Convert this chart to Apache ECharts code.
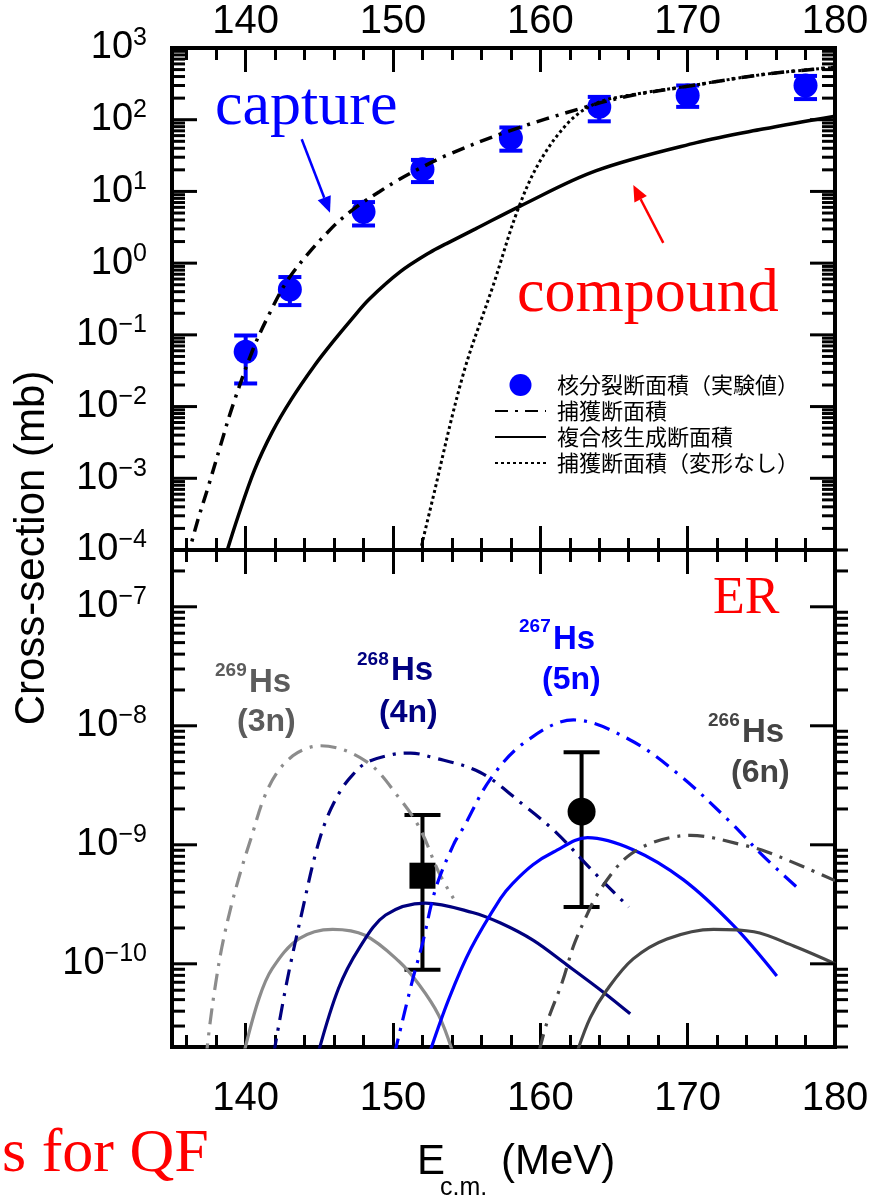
<!DOCTYPE html>
<html>
<head>
<meta charset="utf-8">
<script src="https://cdn.jsdelivr.net/npm/echarts@6/dist/echarts.min.js"></script>
<style>
  html, body { margin: 0; padding: 0; background: #fff; }
  #chart { width: 879px; height: 1196px; }
</style>
</head>
<body>
<div id="chart"></div>
<script>
// x range shared by both panels (MeV)
const xMin = 135, xMax = 180;
// y ranges (mb)
const topMin = 1e-4, topMax = 1e3;
const botMin = 2e-11, botMax = 3e-7;

// 上段: 核分裂断面積（実験値）
const fissE = [140, 143, 148, 152, 158, 164, 170, 178];
const fissVal = [0.058, 0.43, 5.2, 20.4, 55.6, 151, 217, 300];
const fissLo = [0.021, 0.26, 3.35, 13.5, 37, 95, 151, 194];
const fissHi = [0.098, 0.64, 7.1, 27.5, 78, 208, 300, 408];

// 捕獲断面積
const capE = [136.0, 136.7, 137.5, 138.3, 139.1, 140.5, 141.6, 142.8, 144.27, 145.85, 146.6, 147.76, 149.1, 150.27, 151.8, 153.6, 157.7, 163.1, 166, 170.1, 175.1, 180];
const capVal = [7.1e-5, 2.4e-4, 8.1e-4, 2.9e-3, 1.0e-2, 0.063, 0.195, 0.56, 1.38, 3.1, 4.3, 6.6, 10.0, 14.1, 20.9, 31.6, 67.6, 151, 214, 295, 427, 537];

// 複合核生成断面積
const cnE = [138.6, 139.5, 140.6, 141.8, 143.1, 144.7, 145.9, 147.2, 148.4, 150.5, 152.5, 153.6, 155.6, 158.6, 163.8, 170.6, 175.1, 180];
const cnVal = [7.9e-5, 3.0e-4, 1.3e-3, 4.4e-3, 0.0126, 0.038, 0.079, 0.166, 0.316, 0.76, 1.41, 1.86, 3.0, 6.2, 19.5, 47.9, 74, 112];

// 捕獲断面積（変形なし）
const capSphE = [151.75, 152.5, 154.75, 156.8, 158.5, 160, 162, 163.8, 166, 170.1, 175.1, 180];
const capSphVal = [7.9e-5, 3.5e-4, 0.0275, 0.49, 5.75, 26.9, 95.5, 170, 219, 295, 427, 537];

// 下段: ER (dash-dot = upper, solid = lower)
const hs269DashE = [137.3, 137.6, 137.96, 138.4, 139.0, 139.7, 140.4, 141.2, 142.1, 143.2, 144.2, 145.1, 148.2, 150.5, 151.85, 153.1, 154.1];
const hs269DashVal = [1.58e-11, 3.3e-11, 6.8e-11, 1.41e-10, 3.0e-10, 6.2e-10, 1.17e-9, 2.4e-9, 4.0e-9, 5.6e-9, 6.5e-9, 6.8e-9, 5.0e-9, 2.4e-9, 1.35e-9, 5.9e-10, 3.55e-10];
const hs269SolidE = [139.9, 140.9, 141.8, 143.6, 145.9, 148.1, 150.4, 151.8, 153.1, 154.0];
const hs269SolidVal = [1.82e-11, 5.1e-11, 9.1e-11, 1.62e-10, 1.95e-10, 1.74e-10, 1.05e-10, 6.6e-11, 3.7e-11, 1.9e-11];

const hs268DashE = [141.9, 142.8, 143.9, 144.75, 145.5, 146.4, 147.2, 148.2, 150.0, 151.2, 152.5, 155.9, 158.9, 161.1, 163.4, 166.0];
const hs268DashVal = [1.74e-11, 7.1e-11, 3.0e-10, 8.5e-10, 1.66e-9, 2.8e-9, 3.8e-9, 4.9e-9, 5.75e-9, 5.9e-9, 5.5e-9, 4.07e-9, 2.14e-9, 1.26e-9, 6.3e-10, 3.0e-10];
const hs268SolidE = [144.9, 146.3, 147.7, 149.5, 152.2, 155.4, 157.3, 159.5, 161.8, 164.3, 166.1];
const hs268SolidVal = [1.74e-11, 6.2e-11, 1.35e-10, 2.57e-10, 3.24e-10, 2.7e-10, 2.2e-10, 1.58e-10, 9.8e-11, 5.75e-11, 3.8e-11];

const hs267DashE = [150.1, 151.3, 152.0, 152.9, 154.1, 154.8, 156.6, 158.9, 162.25, 166.1, 169.5, 172.9, 175.1, 177.6];
const hs267DashVal = [1.74e-11, 7.1e-11, 1.48e-10, 4.3e-10, 1.0e-9, 1.41e-9, 3.55e-9, 7.2e-9, 1.12e-8, 7.6e-9, 3.8e-9, 1.55e-9, 8.1e-10, 4.2e-10];
const hs267SolidE = [152.45, 153.8, 155.3, 157.3, 158.1, 159.5, 160.9, 163.2, 166.3, 169.7, 173.1, 176.05];
const hs267SolidVal = [1.74e-11, 5.1e-11, 1.35e-10, 3.55e-10, 4.7e-10, 6.8e-10, 8.7e-10, 1.15e-9, 9.1e-10, 5.1e-10, 2.1e-10, 7.9e-11];

const hs266DashE = [159.95, 160.45, 161.5, 162.25, 163.05, 163.8, 165.1, 166.1, 167.4, 168.8, 170.2, 174.0, 175.4, 177.9, 180];
const hs266DashVal = [1.9e-11, 3.2e-11, 7.1e-11, 1.41e-10, 2.4e-10, 3.7e-10, 6.3e-10, 8.3e-10, 1.02e-9, 1.15e-9, 1.2e-9, 9.8e-10, 8.7e-10, 6.5e-10, 5.0e-10];
const hs266SolidE = [162.5, 163.4, 164.5, 166.3, 168.6, 171.75, 174.5, 177.2, 180];
const hs266SolidVal = [1.82e-11, 3.55e-11, 6.0e-11, 1.1e-10, 1.62e-10, 1.95e-10, 1.86e-10, 1.41e-10, 1.0e-10];

// ER 実験値
const erE = [152.0, 162.8];
const erVal = [5.5e-10, 1.9e-9];
const erLo = [8.9e-11, 3.0e-10];
const erHi = [1.78e-9, 6.0e-9];
const erShape = ['rect', 'circle'];

// log tick decades
const topDecades = [-4, -3, -2, -1, 0, 1, 2, 3];
const botDecades = [-11, -10, -9, -8, -7];
const tickMult = [1, 2, 3, 4, 5, 6, 7, 8, 9];

const SANS = 'Liberation Sans';
const SERIF = 'Liberation Serif';
const CJK = 'Noto Sans CJK JP';

const chart = echarts.init(document.getElementById('chart'));

function logTicks(decades, lo, hi) {
  const out = [];
  decades.forEach(k => {
    tickMult.forEach(m => {
      const v = Number((m * Math.pow(10, k)).toPrecision(6));
      if (v >= lo * (1 - 1e-9) && v <= hi * (1 + 1e-9)) out.push([xMin, v, m === 1 ? 1 : 0]);
    });
  });
  return out;
}

// 対数目盛（左右）をカスタムで描く
function tickSeries(xi, yi, data, rightMinorOut) {
  return {
    type: 'custom', xAxisIndex: xi, yAxisIndex: yi, silent: true, clip: false, z: 6,
    encode: { x: 0, y: 1 },
    data: data,
    renderItem: function (params, api) {
      const v = api.value(1);
      const major = api.value(2) === 1;
      const l = api.coord([xMin, v]);
      const r = api.coord([xMax, v]);
      const len = major ? 25 : 13;
      const rx2 = (rightMinorOut && !major) ? r[0] + len : r[0] - len;
      return {
        type: 'group',
        children: [
          { type: 'line', shape: { x1: l[0], y1: l[1], x2: l[0] + len, y2: l[1] }, style: { stroke: '#000', lineWidth: 3 } },
          { type: 'line', shape: { x1: r[0], y1: r[1], x2: rx2, y2: r[1] }, style: { stroke: '#000', lineWidth: 3 } }
        ]
      };
    }
  };
}

function errSeries(xi, yi, E, lo, hi, color, capW) {
  return {
    type: 'custom', xAxisIndex: xi, yAxisIndex: yi, silent: true, z: 3,
    encode: { x: 0, y: 1 },
    data: E.map((e, i) => [e, lo[i], hi[i]]),
    renderItem: function (params, api) {
      const a = api.coord([api.value(0), api.value(1)]);
      const b = api.coord([api.value(0), api.value(2)]);
      const st = { stroke: color, lineWidth: 4 };
      return {
        type: 'group',
        children: [
          { type: 'line', shape: { x1: a[0], y1: a[1], x2: b[0], y2: b[1] }, style: st },
          { type: 'line', shape: { x1: a[0] - capW / 2, y1: a[1], x2: a[0] + capW / 2, y2: a[1] }, style: st },
          { type: 'line', shape: { x1: b[0] - capW / 2, y1: b[1], x2: b[0] + capW / 2, y2: b[1] }, style: st }
        ]
      };
    }
  };
}

function curve(name, xi, yi, E, V, color, type, width) {
  return {
    type: 'line', name: name, xAxisIndex: xi, yAxisIndex: yi,
    data: E.map((e, i) => [e, V[i]]),
    smooth: 0.35, symbol: 'none', showSymbol: false, z: 5,
    lineStyle: { color: color, width: width, type: type },
    itemStyle: { color: color }
  };
}

function powLabel(v) {
  const lg = Math.log10(v);
  const e = Math.round(lg);
  if (Math.abs(lg - e) > 1e-6) return '';
  return '{b|10}{s|' + (e < 0 ? '\u2212' + (-e) : e) + '}';
}

const yLabel = {
  margin: 25,
  formatter: powLabel,
  rich: {
    b: { fontSize: 38, fontFamily: SANS, color: '#000', lineHeight: 44, verticalAlign: 'middle' },
    s: { fontSize: 25, fontFamily: SANS, color: '#000', verticalAlign: 'top' }
  }
};

function xAxisOpt(gi, pos, showLabel, margin) {
  return {
    type: 'value', gridIndex: gi, position: pos, min: xMin, max: xMax,
    axisLine: { show: false },
    axisTick: { show: true, inside: true, length: 24, lineStyle: { color: '#000', width: 3 } },
    minorTick: { show: true, splitNumber: 5, length: 12, lineStyle: { color: '#000', width: 3 } },
    splitLine: { show: false },
    minorSplitLine: { show: false },
    axisLabel: {
      show: showLabel, margin: margin, showMinLabel: false,
      fontSize: 40, fontFamily: SANS, color: '#000'
    }
  };
}

function yAxisOpt(gi, lo, hi) {
  return {
    type: 'log', logBase: 10, gridIndex: gi, min: lo, max: hi,
    axisLine: { show: false }, axisTick: { show: false },
    splitLine: { show: false },
    axisLabel: yLabel
  };
}

function arrow(x1, y1, x2, y2, color) {
  const ang = Math.atan2(y2 - y1, x2 - x1);
  const hl = 16, hw = 7;
  const bx = x2 - hl * Math.cos(ang), by = y2 - hl * Math.sin(ang);
  const px = -Math.sin(ang) * hw, py = Math.cos(ang) * hw;
  return [
    { type: 'line', shape: { x1: x1, y1: y1, x2: bx, y2: by }, style: { stroke: color, lineWidth: 2.5 } },
    { type: 'polygon', shape: { points: [[x2, y2], [bx + px, by + py], [bx - px, by - py]] }, style: { fill: color } }
  ];
}

function txt(x, y, text, size, color, family, weight, extra) {
  return Object.assign({
    type: 'text', x: x, y: y, z: 20,
    style: {
      text: text, fontSize: size, fontFamily: family, fontWeight: weight || 'normal',
      fill: color, textAlign: 'left', textVerticalAlign: 'middle'
    }
  }, extra || {});
}

// isotope labels: [mass, (xn), color, supX, supY, hsX, hsY, nX, nY]
const isoLabels = [
  ['269', '(3n)', '#5c5c5c', 215, 671, 249, 683, 237, 722],
  ['268', '(4n)', '#000080', 357, 660, 391, 671, 379, 713],
  ['267', '(5n)', '#0000ff', 519, 627, 553, 640, 542, 680],
  ['266', '(6n)', '#444444', 708, 721, 742, 733, 731, 773]
];
const isoGraphics = [];
isoLabels.forEach(l => {
  isoGraphics.push(txt(l[3], l[4], l[0], 19, l[2], SANS, 'bold'));
  isoGraphics.push(txt(l[5], l[6], 'Hs', 33, l[2], SANS, 'bold'));
  isoGraphics.push(txt(l[7], l[8], l[1], 32, l[2], SANS, 'bold'));
});

const noSymbol = { opacity: 0 };

const option = {
  animation: false,
  backgroundColor: '#fff',
  textStyle: { fontFamily: SANS },
  grid: [
    { left: 172, right: 44, top: 48, height: 502, show: true, borderColor: '#000', borderWidth: 4, backgroundColor: 'transparent', outerBoundsMode: 'none' },
    { left: 172, right: 44, top: 550, height: 497, show: true, borderColor: '#000', borderWidth: 4, backgroundColor: 'transparent', outerBoundsMode: 'none' }
  ],
  xAxis: [
    xAxisOpt(0, 'top', true, 6),
    xAxisOpt(0, 'bottom', false, 0),
    xAxisOpt(1, 'top', false, 0),
    xAxisOpt(1, 'bottom', true, 32)
  ],
  yAxis: [
    yAxisOpt(0, topMin, topMax),
    yAxisOpt(1, botMin, botMax)
  ],
  legend: {
    left: 489, top: 369, orient: 'vertical', selectedMode: false,
    itemWidth: 51, itemHeight: 22, itemGap: 4,
    textStyle: { fontSize: 22, fontFamily: CJK, color: '#000', padding: [0, 0, 0, 6] },
    data: [
      { name: '核分裂断面積（実験値）', icon: 'circle', itemStyle: { color: '#0000ff', opacity: 1 } },
      { name: '捕獲断面積', itemStyle: noSymbol },
      { name: '複合核生成断面積', itemStyle: noSymbol },
      { name: '捕獲断面積（変形なし）', itemStyle: noSymbol }
    ]
  },
  series: [
    tickSeries(0, 0, logTicks(topDecades, topMin, topMax), false),
    tickSeries(2, 1, logTicks(botDecades, botMin, botMax), true),
    errSeries(0, 0, fissE, fissLo, fissHi, '#0000ff', 23),
    {
      type: 'scatter', name: '核分裂断面積（実験値）', xAxisIndex: 0, yAxisIndex: 0,
      data: fissE.map((e, i) => [e, fissVal[i]]),
      symbol: 'circle', symbolSize: 24, z: 4,
      itemStyle: { color: '#0000ff', opacity: 1 }
    },
    curve('捕獲断面積', 0, 0, capE, capVal, '#000', [13, 7, 3, 7], 3.5),
    curve('複合核生成断面積', 0, 0, cnE, cnVal, '#000', 'solid', 3.5),
    curve('捕獲断面積（変形なし）', 0, 0, capSphE, capSphVal, '#000', [3, 3], 3),
    errSeries(2, 1, erE, erLo, erHi, '#000', 36),
    {
      type: 'scatter', name: 'ER', xAxisIndex: 2, yAxisIndex: 1,
      data: erE.map((e, i) => ({ value: [e, erVal[i]], symbol: erShape[i], symbolSize: erShape[i] === 'rect' ? 26 : 28 })),
      z: 4, itemStyle: { color: '#000', opacity: 1 }
    },
    curve('269Hs-up', 2, 1, hs269DashE, hs269DashVal, '#8c8c8c', [16, 8, 3, 8], 3.2),
    curve('269Hs', 2, 1, hs269SolidE, hs269SolidVal, '#8c8c8c', 'solid', 3.2),
    curve('268Hs-up', 2, 1, hs268DashE, hs268DashVal, '#00007f', [16, 8, 3, 8], 3.2),
    curve('268Hs', 2, 1, hs268SolidE, hs268SolidVal, '#00007f', 'solid', 3.2),
    curve('267Hs-up', 2, 1, hs267DashE, hs267DashVal, '#0000ff', [16, 8, 3, 8], 3.2),
    curve('267Hs', 2, 1, hs267SolidE, hs267SolidVal, '#0000ff', 'solid', 3.2),
    curve('266Hs-up', 2, 1, hs266DashE, hs266DashVal, '#474747', [16, 8, 3, 8], 3.2),
    curve('266Hs', 2, 1, hs266SolidE, hs266SolidVal, '#474747', 'solid', 3.2)
  ],
  graphic: [
    txt(215, 108, 'capture', 62, '#0000ff', SERIF),
    ...arrow(301.7, 139.3, 330, 212.7, '#0000ff'),
    txt(517, 295, 'compound', 62, '#ff0000', SERIF),
    ...arrow(663.3, 242.9, 633.3, 185, '#ff0000'),
    txt(713, 599, 'ER', 52, '#ff0000', SERIF),
    txt(2, 1155, 's for QF', 62, '#ff0000', SERIF),
    ...isoGraphics,
    txt(417, 1162, 'E', 42, '#000', SANS),
    txt(440, 1188, 'c.m.', 25, '#000', SANS),
    txt(501, 1162, '(MeV)', 42, '#000', SANS),
    txt(32, 548, 'Cross-section (mb)', 42, '#000', SANS, 'normal', { rotation: Math.PI / 2, style: { text: 'Cross-section (mb)', fontSize: 42, fontFamily: SANS, fill: '#000', textAlign: 'center', textVerticalAlign: 'middle' } })
  ]
};

chart.setOption(option);
</script>
</body>
</html>
